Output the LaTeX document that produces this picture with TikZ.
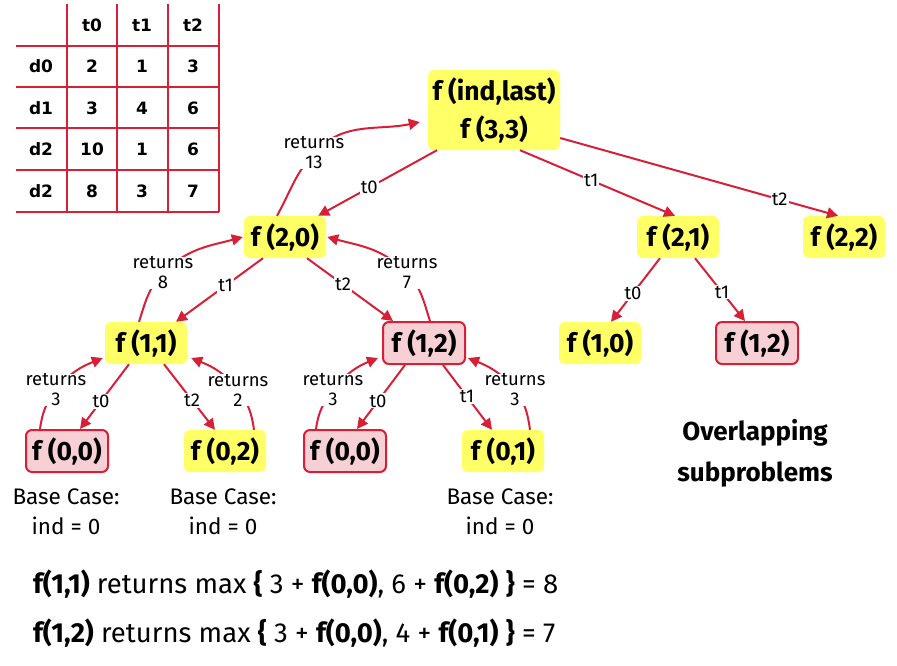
\documentclass[tikz,border=0pt]{standalone}
\usepackage{fontspec}
\setmainfont{Fira Sans}
\newfontfamily\tabfont{DejaVu Sans}
\usetikzlibrary{arrows.meta}
\definecolor{cred}{RGB}{214,32,56}
\definecolor{cyel}{RGB}{255,255,102}
\definecolor{cpink}{RGB}{247,208,214}
\begin{document}
\begin{tikzpicture}[x=1pt,y=1pt,
  fnode/.style={rounded corners=6pt, minimum width=82pt, minimum height=42pt, inner sep=0pt,
     font=\fontsize{26.5}{30}\selectfont\bfseries},
  ynode/.style={fnode, fill=cyel},
  pnode/.style={fnode, fill=cpink, draw=cred, line width=2pt},
  edge/.style={draw=cred, line width=2pt, -{Triangle[length=11pt,width=11pt]}},
  lbl/.style={fill=white, inner sep=1pt, font=\fontsize{18.5}{20}\selectfont},
  ret/.style={fill=white, inner sep=0pt, align=center, font=\fontsize{18.5}{20}\selectfont},
  tab/.style={font=\tabfont\bfseries\fontsize{17}{20}\selectfont, inner sep=0pt},
  tline/.style={draw=cred, line width=2pt},
  base/.style={align=center, font=\fontsize{22.5}{30}\selectfont, inner sep=0pt}
]
\useasboundingbox (0,0) rectangle (897,-665);

% table
\foreach \yy in {46,87,128,170,212} \draw[tline] (16,-\yy) -- (219,-\yy);
\foreach \xx in {67,117,168,219} \draw[tline] (\xx,-4) -- (\xx,-212);
\node[tab] (h0) at (92,-25) {t0};
\node[tab] (h1) at (142,-25) {t1};
\node[tab] (h2) at (193,-25) {t2};
\node[tab] (r0) at (41,-66) {d0};
\node[tab] (r1) at (41,-108) {d1};
\node[tab] (r2) at (41,-149) {d2};
\node[tab] (r3) at (41,-191) {d2};
\node[tab] (c00) at (92,-66) {2};
\node[tab] (c01) at (142,-66) {1};
\node[tab] (c02) at (193,-66) {3};
\node[tab] (c10) at (92,-108) {3};
\node[tab] (c11) at (142,-108) {4};
\node[tab] (c12) at (193,-108) {6};
\node[tab] (c20) at (92,-149) {10};
\node[tab] (c21) at (142,-149) {1};
\node[tab] (c22) at (193,-149) {6};
\node[tab] (c30) at (92,-191) {8};
\node[tab] (c31) at (142,-191) {3};
\node[tab] (c32) at (193,-191) {7};

% tree nodes
\node[ynode, minimum width=132pt, minimum height=80pt, align=center,
      font=\fontsize{26.5}{38}\selectfont\bfseries] (root) at (494,-110) {f (ind,last)\\f (3,3)};
\node[ynode] (f20) at (285,-237) {f (2,0)};
\node[ynode] (f21) at (678,-237) {f (2,1)};
\node[ynode] (f22) at (844,-237) {f (2,2)};
\node[ynode] (f11) at (146,-343) {f (1,1)};
\node[pnode] (f12) at (424,-343) {f (1,2)};
\node[ynode] (f10) at (600,-343) {f (1,0)};
\node[pnode] (f12r) at (757,-343) {f (1,2)};
\node[pnode] (f00) at (67,-451) {f (0,0)};
\node[ynode] (f02) at (225,-451) {f (0,2)};
\node[pnode] (f00m) at (345,-451) {f (0,0)};
\node[ynode] (f01) at (503,-451) {f (0,1)};

% call edges
\draw[edge] ([xshift=-57pt]root.south) -- node[lbl,pos=0.57] (e1) {t0} ([xshift=-8pt]f20.north east);
\draw[edge] ([xshift=26pt]root.south) -- node[lbl,pos=0.46] (e2) {t1} ([xshift=-3pt]f21.north);
\draw[edge] ([yshift=-28pt]root.east) -- node[lbl,pos=0.79] (e3) {t2} ([xshift=-6pt]f22.north);
\draw[edge] ([xshift=-22pt]f20.south) -- node[lbl,pos=0.43] (e4) {t1} ([xshift=30pt]f11.north);
\draw[edge] ([xshift=22pt]f20.south) -- node[lbl,pos=0.42] (e5) {t2} ([xshift=-31pt]f12.north);
\draw[edge] ([xshift=-18pt]f21.south) -- node[lbl,pos=0.55] (e6) {t0} ([xshift=11pt]f10.north);
\draw[edge] ([xshift=17pt]f21.south) -- node[lbl,pos=0.54] (e7) {t1} ([xshift=-12pt]f12r.north);
\draw[edge] ([xshift=-17pt]f11.south) -- node[lbl,pos=0.57] (e8) {t0} ([xshift=13pt]f00.north);
\draw[edge] ([xshift=18pt]f11.south) -- node[lbl,pos=0.55] (e9) {t2} ([xshift=-10pt]f02.north);
\draw[edge] ([xshift=-19pt]f12.south) -- node[lbl,pos=0.56] (e10) {t0} ([xshift=12pt]f00m.north);
\draw[edge] ([xshift=19pt]f12.south) -- node[lbl,pos=0.49] (e11) {t1} ([xshift=-11pt]f01.north);

% return arcs
\coordinate (q13) at (314,-153);
\coordinate (q8) at (163,-273);
\coordinate (q7) at (407,-273);
\coordinate (q3a) at (56,-390);
\coordinate (q2) at (238,-390);
\coordinate (q3b) at (333,-390);
\coordinate (q3c) at (515,-390);
\draw[edge] ([xshift=-8pt]f20.north) to[out=61,in=228] (q13) to[out=48,in=192] ([shift={(-8pt,-12pt)}]root.west);
\draw[edge] ([xshift=-7pt]f11.north) to[out=72,in=226] (q8) to[out=46,in=195] ([xshift=-1pt]f20.west);
\draw[edge] ([xshift=6pt]f12.north) to[out=108,in=314] (q7) to[out=134,in=345] ([xshift=1pt]f20.east);
\draw[edge] ([xshift=-27pt]f00.north) to[out=82,in=232] (q3a) to[out=52,in=202] ([shift={(-2pt,-15pt)}]f11.west);
\draw[edge] ([xshift=29pt]f02.north) to[out=98,in=308] (q2) to[out=128,in=338] ([shift={(4pt,-15pt)}]f11.east);
\draw[edge] ([xshift=-29pt]f00m.north) to[out=82,in=232] (q3b) to[out=52,in=202] ([shift={(-4pt,-15pt)}]f12.west);
\draw[edge] ([xshift=27pt]f01.north) to[out=98,in=308] (q3c) to[out=128,in=338] ([shift={(2pt,-15pt)}]f12.east);
\node[ret] (l13) at (q13) {returns\\13};
\node[ret] (l8) at (q8) {returns\\8};
\node[ret] (l7) at (q7) {returns\\7};
\node[ret] (l3a) at (q3a) {returns\\3};
\node[ret] (l2) at (q2) {returns\\2};
\node[ret] (l3b) at (q3b) {returns\\3};
\node[ret] (l3c) at (q3c) {returns\\3};

% base case labels
\node[base] (b1) at (66,-512) {Base Case:\\ind = 0};
\node[base] (b2) at (223,-512) {Base Case:\\ind = 0};
\node[base] (b3) at (500,-512) {Base Case:\\ind = 0};

\node[align=center, inner sep=0pt, font=\fontsize{26}{41}\selectfont\bfseries] (ovl) at (755,-453) {Overlapping\\subproblems};

% formulas
\node[anchor=west, inner sep=0pt, font=\fontsize{27.5}{30}\selectfont] (eq1) at (33,-584)
  {\textbf{f(1,1)} returns max \textbf{\{} 3 + \textbf{f(0,0)}, 6 + \textbf{f(0,2)} \textbf{\}} = 8};
\node[anchor=west, inner sep=0pt, font=\fontsize{27.5}{30}\selectfont] (eq2) at (33,-633)
  {\textbf{f(1,2)} returns max \textbf{\{} 3 + \textbf{f(0,0)}, 4 + \textbf{f(0,1)} \textbf{\}} = 7};
\end{tikzpicture}
\end{document}
